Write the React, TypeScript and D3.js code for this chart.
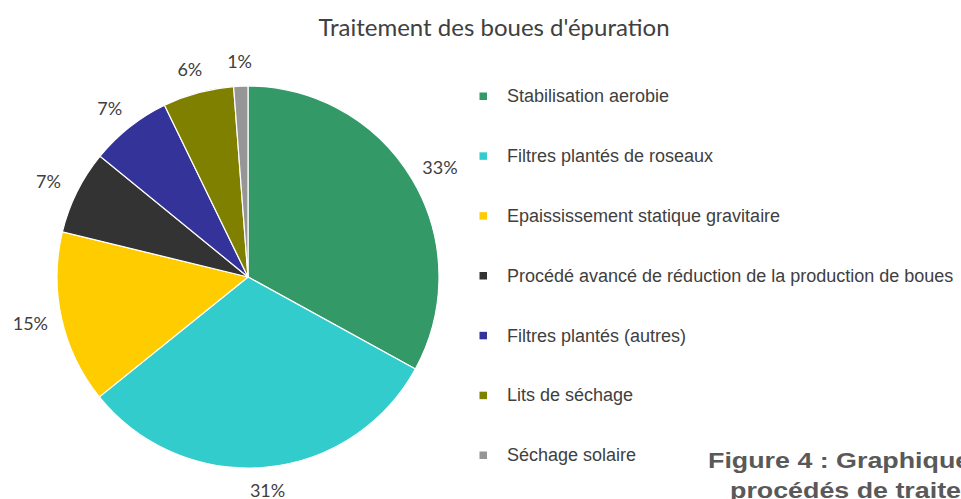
import React from 'react';
import * as d3 from 'd3';

const categories = [
  'Stabilisation aerobie',
  'Filtres plantés de roseaux',
  'Epaississement statique gravitaire',
  'Procédé avancé de réduction de la production de boues',
  'Filtres plantés (autres)',
  'Lits de séchage',
  'Séchage solaire'
];
const values = [33.0, 31.2, 14.6, 7.1, 6.9, 6.0, 1.2];
const labels = ['33%', '31%', '15%', '7%', '7%', '6%', '1%'];
const colors = ['#339966', '#33cccc', '#ffcc00', '#333333', '#333399', '#808000', '#969696'];

const App = () => {
  const width = 961;
  const height = 499;
  const cx = 248;
  const cy = 277;
  const radius = 191;
  // labels sit just outside the pie, pushed out by half their box
  const labelRadius = 205;
  const halfW = 18;
  const halfH = 10;

  const pie = d3.pie<number>().sort(null).value(d => d);
  const arcs = pie(values);
  const arc = d3.arc<d3.PieArcDatum<number>>().innerRadius(0).outerRadius(radius);

  // legend rows are evenly spaced
  const legendY = d3.scalePoint<number>()
    .domain(d3.range(categories.length))
    .range([96, 455]);

  const slices = arcs.map((a, i) => (
    <path key={i} d={arc(a) || ''} fill={colors[i]} stroke="#ffffff" strokeWidth={1.2} />
  ));

  const pctLabels = arcs.map((a, i) => {
    const mid = (a.startAngle + a.endAngle) / 2;
    const x = (labelRadius + halfW) * Math.sin(mid);
    const y = -(labelRadius + halfH) * Math.cos(mid);
    return (
      <text key={i} x={x} y={y} dy="0.35em" textAnchor="middle"
        fontFamily="Lato, 'Open Sans', sans-serif" fontSize={18} fill="#404040">
        {labels[i]}
      </text>
    );
  });

  const legend = categories.map((c, i) => (
    <g key={i} transform={'translate(483,' + legendY(i) + ')'}>
      <rect x={-3.5} y={-3.5} width={7.5} height={7.5} fill={colors[i]} />
      <text x={24} dy="0.35em" fontFamily="'Liberation Sans', Arial, sans-serif"
        fontSize={18} fill="#404040">{c}</text>
    </g>
  ));

  return (
    <svg width={width} height={height}
      style={{ position: 'absolute', left: 0, top: 0, background: '#ffffff' }}>
      <text x={494} y={28} dy="0.35em" textAnchor="middle"
        fontFamily="Lato, 'Open Sans', sans-serif" fontSize={24} fill="#404040">
        Traitement des boues d'épuration
      </text>
      <g transform={'translate(' + cx + ',' + cy + ')'}>
        {slices}
        {pctLabels}
      </g>
      {legend}
      <g fontFamily="'Liberation Sans', Arial, sans-serif" fontWeight="bold" fontSize={22} fill="#595959">
        <g transform="translate(708,468) scale(1.22,1)">
          <text x={0} y={0}>Figure 4 : Graphique de répartition des</text>
        </g>
        <g transform="translate(730,498) scale(1.22,1)">
          <text x={0} y={0}>procédés de traitement des boues</text>
        </g>
      </g>
    </svg>
  );
};

export default App;
